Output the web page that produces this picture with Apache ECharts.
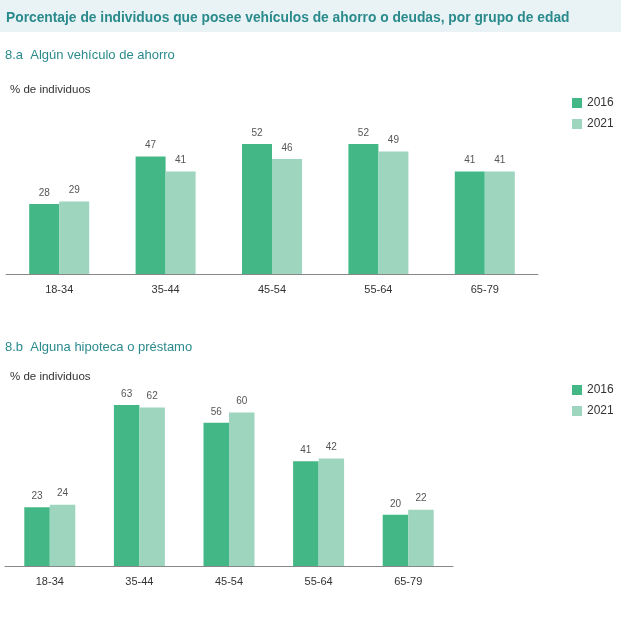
<!DOCTYPE html>
<html><head><meta charset="utf-8">
<script src="https://cdn.jsdelivr.net/npm/echarts@6/dist/echarts.min.js"></script>
<style>html,body{margin:0;padding:0;background:#fff}#c{width:621px;height:621px}</style>
</head><body><div id="c"></div>
<script>
const categories = ['18-34','35-44','45-54','55-64','65-79'];
const ahorro2016 = [28,47,52,52,41];
const ahorro2021 = [29,41,46,49,41];
const deuda2016 = [23,63,56,41,20];
const deuda2021 = [24,62,60,42,22];
const years = ['2016','2021'];
const mainTitle = 'Porcentaje de individuos que posee vehículos de ahorro o deudas, por grupo de edad';
const subA = '8.a  Algún vehículo de ahorro';
const subB = '8.b  Alguna hipoteca o préstamo';
const yName = '% de individuos';

const C1 = '#43b886', C2 = '#9dd5be';
const FF = 'Liberation Sans, Arial, sans-serif';
const chart = echarts.init(document.getElementById('c'), null, {renderer:'canvas'});
const lbl = {show:true, position:'top', distance:6, color:'#555', fontSize:10, fontFamily:FF};
const xAx = (gi)=>({type:'category', gridIndex:gi, data:categories,
  axisLine:{lineStyle:{color:'#888', width:1}},
  axisTick:{inside:true, length:3, lineStyle:{color:'#888'}},
  axisLabel:{color:'#333', fontSize:11, fontFamily:FF, margin:10}});
const yAx = (gi,max)=>({type:'value', gridIndex:gi, min:0, max:max, show:false, splitLine:{show:false}});
const leg = (top)=>({data:years, orient:'vertical', left:567, top:top, itemWidth:10, itemHeight:10, itemGap:9,
     textStyle:{color:'#333', fontSize:12, fontFamily:FF}, icon:'rect'});
chart.setOption({
  animation:false,
  graphic:[{type:'rect', shape:{x:0,y:0,width:621,height:32}, style:{fill:'#e9f3f5'}, z:-1}],
  title:[
    {text:mainTitle, left:1, top:6, textStyle:{color:'#2a8a8c', fontSize:13.8, fontWeight:'bold', fontFamily:FF}},
    {text:subA, left:0, top:44, textStyle:{color:'#2a8a8c', fontSize:13, fontWeight:'normal', fontFamily:FF}},
    {text:yName, left:5, top:79, textStyle:{color:'#333', fontSize:11.5, fontWeight:'normal', fontFamily:FF}},
    {text:subB, left:0, top:336, textStyle:{color:'#2a8a8c', fontSize:13, fontWeight:'normal', fontFamily:FF}},
    {text:yName, left:5, top:366, textStyle:{color:'#333', fontSize:11.5, fontWeight:'normal', fontFamily:FF}}
  ],
  legend:[leg(92), leg(379)],
  grid:[
    {left:6, width:532, top:124, height:150},
    {left:5, width:448, top:387, height:179}
  ],
  xAxis:[xAx(0), xAx(1)],
  yAxis:[yAx(0,60), yAx(1,70)],
  series:[
    {name:years[0], type:'bar', xAxisIndex:0, yAxisIndex:0, data:ahorro2016, barWidth:30, barGap:'0%', itemStyle:{color:C1}, label:lbl},
    {name:years[1], type:'bar', xAxisIndex:0, yAxisIndex:0, data:ahorro2021, barWidth:30, barGap:'0%', itemStyle:{color:C2}, label:lbl},
    {name:years[0], type:'bar', xAxisIndex:1, yAxisIndex:1, data:deuda2016, barWidth:25.5, barGap:'0%', itemStyle:{color:C1}, label:lbl},
    {name:years[1], type:'bar', xAxisIndex:1, yAxisIndex:1, data:deuda2021, barWidth:25.5, barGap:'0%', itemStyle:{color:C2}, label:lbl}
  ]
});
</script></body></html>
